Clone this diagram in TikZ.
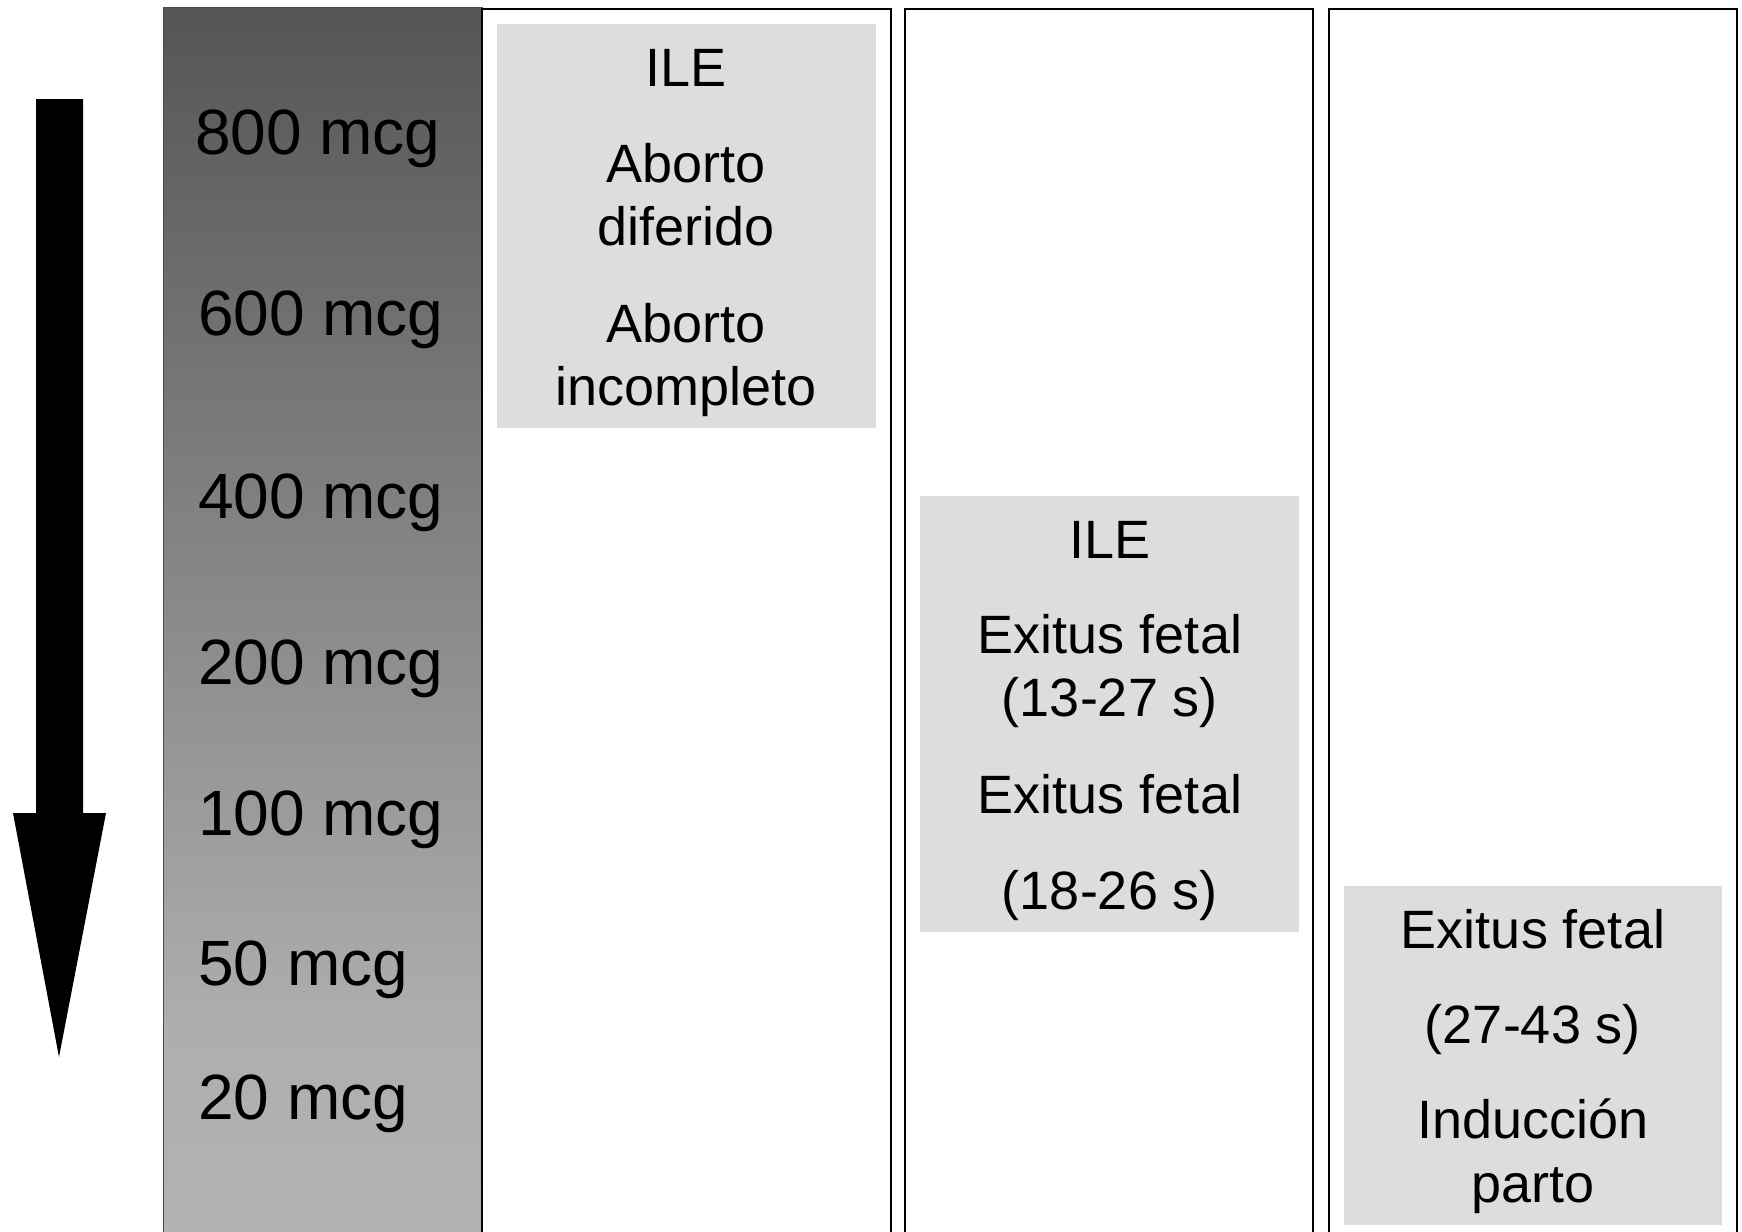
\documentclass[tikz,border=0pt]{standalone}
\usepackage{fontspec}
\setmainfont{Liberation Sans}
\definecolor{gtop}{HTML}{555555}
\definecolor{gmid}{HTML}{AEAEAE}
\definecolor{gbot}{HTML}{B3B3B3}
\definecolor{boxgray}{HTML}{DDDDDD}
\pgfdeclareverticalshading{colgrad}{100bp}{color(0bp)=(gbot); color(25bp)=(gbot); color(34bp)=(gmid); color(75bp)=(gtop); color(100bp)=(gtop)}
\tikzset{
  dose/.style={anchor=base west, inner sep=0pt, font=\fontsize{64}{70}\selectfont},
  txt/.style={anchor=base, inner sep=0pt, font=\fontsize{54}{60}\selectfont},
  colframe/.style={draw=black, line width=1.6pt},
  graybox/.style={fill=boxgray, draw=none}
}
\begin{document}
\begin{tikzpicture}[x=1pt,y=-1pt]
\useasboundingbox (0,0) rectangle (1742,1231);
\begin{scope}
\clip (0,0) rectangle (1742,1231);
% gradient column
\path[shading=colgrad, draw=gray!60!black, line width=1pt] (163,8) rectangle (482,1250);
\draw[line width=1.6pt] (482,8) -- (482,1250);
% result columns
\draw[colframe] (482,9) rectangle (891,1250);
\draw[colframe] (905,9) rectangle (1313,1250);
\draw[colframe] (1329,9) rectangle (1737,1250);
\end{scope}
% arrow
\fill[black] (36,99) -- (83,99) -- (83,813) -- (106,813) -- (59,1057) -- (13,813) -- (36,813) -- cycle;
% doses
\node[dose] (d800) at (195,154) {800 mcg};
\node[dose] (d600) at (198,335) {600 mcg};
\node[dose] (d400) at (198,518) {400 mcg};
\node[dose] (d200) at (198,684) {200 mcg};
\node[dose] (d100) at (198,835) {100 mcg};
\node[dose] (d50) at (198,985) {50 mcg};
\node[dose] (d20) at (198,1119) {20 mcg};
% gray boxes
\path[graybox] (497,24) rectangle (876,428);
\path[graybox] (920,496) rectangle (1299,932);
\path[graybox] (1344,886) rectangle (1722,1225);
% box 1 text
\node[txt] (a1) at (686,86) {ILE};
\node[txt] (a2) at (686,182) {Aborto};
\node[txt] (a3) at (686,245) {diferido};
\node[txt] (a4) at (686,342) {Aborto};
\node[txt] (a5) at (686,405) {incompleto};
% box 2 text
\node[txt] (b1) at (1110,558) {ILE};
\node[txt] (b2) at (1110,653) {Exitus fetal};
\node[txt] (b3) at (1110,716) {(13-27 s)};
\node[txt] (b4) at (1110,813) {Exitus fetal};
\node[txt] (b5) at (1110,909) {(18-26 s)};
% box 3 text
\node[txt] (c1) at (1533,948) {Exitus fetal};
\node[txt] (c2) at (1533,1043) {(27-43 s)};
\node[txt] (c3) at (1533,1138) {Inducción};
\node[txt] (c4) at (1533,1202) {parto};
\end{tikzpicture}
\end{document}
